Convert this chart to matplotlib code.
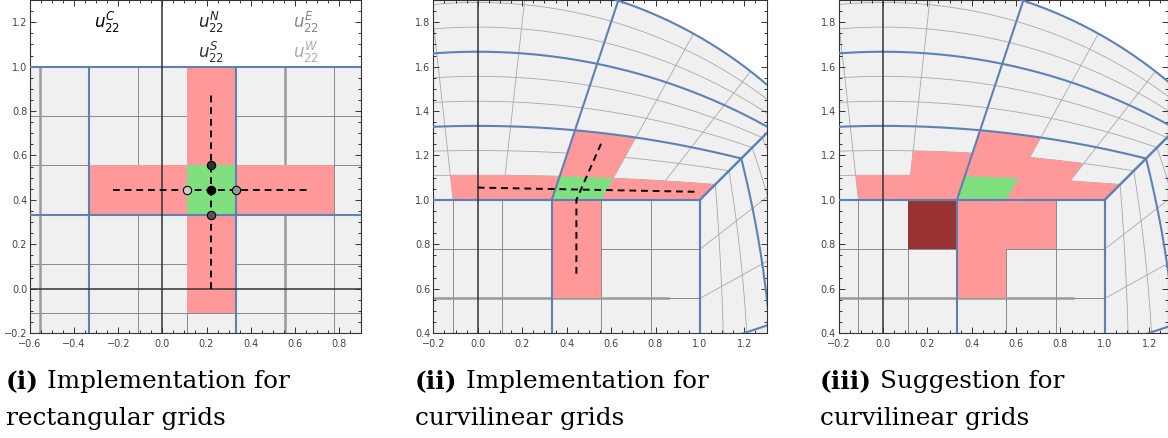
import numpy as np
import matplotlib
matplotlib.use('Agg')
import matplotlib.pyplot as plt
from matplotlib.patches import Polygon, Circle, Rectangle
from matplotlib.ticker import MultipleLocator, FuncFormatter

W, H = 1168, 438

# cell edges of the 9x9 square mesh (3x3 blocks of 3x3 cells), same split along xi in the ring
edges = [-1.0, -7/9, -5/9, -1/3, -1/9, 1/9, 1/3, 5/9, 7/9, 1.0]
block_idx = [0, 3, 6, 9]
# ring levels: height of each arc on the y axis and its curvature (outer arc is the circle r=2)
arc_top = [1.0, 1.111, 1.222, 1.333, 1.444, 1.556, 1.667, 1.778, 1.889, 2.0]
arc_curv = [0.0, 0.073, 0.142, 0.206, 0.266, 0.322, 0.373, 0.420, 0.462, 0.5]

# stencils, (column, row) cell indices
p1_red = [(3, 6), (4, 6), (6, 6), (7, 6), (5, 4), (5, 5), (5, 7), (5, 8)]
p1_green = [(5, 6)]
p2_sq_red = [(6, 7), (6, 8)]
p2_ring_red = [(4, 0), (5, 0), (7, 0), (8, 0), (6, 1), (6, 2)]
p2_ring_green = [(6, 0)]
p3_sq_red = [(6, 7), (6, 8), (7, 8)]
p3_sq_dark = [(5, 8)]
p3_ring_red = [(4, 0), (5, 0), (7, 0), (8, 0), (5, 1), (6, 1), (7, 1), (6, 2)]
p3_ring_green = [(6, 0)]

# dashed stencil lines of the curvilinear implementation
p2_hx = [0.0, 0.985]
p2_hy = [1.055, 1.036]
p2_vx = [0.444, 0.444, 0.556]
p2_vy = [0.667, 1.0, 1.255]

labels = ['$u_{22}^{C}$', '$u_{22}^{N}$', '$u_{22}^{S}$', '$u_{22}^{E}$', '$u_{22}^{W}$']
label_x = [-0.25, 0.22, 0.22, 0.65, 0.65]
label_y = [1.2, 1.2, 1.065, 1.2, 1.065]
label_col = ['#000000', '#222222', '#333333', '#888888', '#aaaaaa']

captions = [('(i)', 'Implementation for', 'rectangular grids'),
            ('(ii)', 'Implementation for', 'curvilinear grids'),
            ('(iii)', 'Suggestion for', 'curvilinear grids')]

BLUE = '#5e81b5'
RED = '#ff9999'
GREEN = '#80e080'
DARK = '#993333'
FILL = '#f0f0f0'


def ring_pt(xi, k):
    """point on ray through (xi, 1) and arc number k of the top ring block"""
    xi = np.asarray(xi, dtype=float)
    n = np.hypot(xi, 1.0)
    ux, uy = xi / n, 1.0 / n
    kap = arc_curv[k]
    if kap == 0:
        t = arc_top[k] / uy
    else:
        r = 1.0 / kap
        c = arc_top[k] - r
        t = c * uy + np.sqrt((c * uy) ** 2 - c * c + r * r)
    return t * ux, t * uy


def ring_cell(i, k):
    xs = np.linspace(edges[i], edges[i + 1], 30)
    x0, y0 = ring_pt(xs, k)
    x1, y1 = ring_pt(xs[::-1], k + 1)
    return np.column_stack([np.r_[x0, x1], np.r_[y0, y1]])


def sq_cell(i, j):
    return Rectangle((edges[i], edges[j]), edges[i + 1] - edges[i], edges[j + 1] - edges[j])


def draw_square(ax):
    for i, e in enumerate(edges):
        blue = i in block_idx
        kw = dict(color=BLUE, lw=1.5, zorder=3) if blue else dict(color='#8a8a8a', lw=0.7, zorder=1)
        ax.plot([e, e], [-1, 1], **kw)
        ax.plot([-1, 1], [e, e], **kw)


# the four ring blocks are copies of the top one
sym = [lambda x, y: (x, y), lambda x, y: (y, x), lambda x, y: (-y, x), lambda x, y: (x, -y)]


def draw_ring(ax):
    xs = np.linspace(-1, 1, 300)
    for f in sym:
        for k in range(10):
            blue = k in block_idx
            kw = dict(color=BLUE, lw=1.5, zorder=3) if blue else dict(color='#a8a8a8', lw=0.6, zorder=1)
            ax.plot(*f(*ring_pt(xs, k)), **kw)
        for i, e in enumerate(edges):
            blue = i in block_idx
            kw = dict(color=BLUE, lw=1.5, zorder=3) if blue else dict(color='#a8a8a8', lw=0.6, zorder=1)
            xa, ya = ring_pt(e, 0)
            xb, yb = ring_pt(e, 9)
            ax.plot(*f(np.array([xa, xb]), np.array([ya, yb])), **kw)


def fmt(v, pos):
    s = '%.1f' % v
    if s == '-0.0':
        s = '0.0'
    return s.replace('-', '\u2212')


def style(ax, xlim, ylim):
    ax.set_xlim(*xlim)
    ax.set_ylim(*ylim)
    for a in (ax.xaxis, ax.yaxis):
        a.set_major_locator(MultipleLocator(0.2))
        a.set_minor_locator(MultipleLocator(0.05))
        a.set_major_formatter(FuncFormatter(fmt))
    ax.tick_params(which='both', direction='in', top=True, right=True,
                   width=0.7, color='#333333', labelsize=7, labelcolor='#444444')
    ax.tick_params(axis='x', pad=4)
    ax.tick_params(axis='y', pad=2)
    ax.tick_params(which='major', length=4)
    ax.tick_params(which='minor', length=2)
    for s in ax.spines.values():
        s.set_color('#333333')
        s.set_linewidth(0.8)
    ax.axvline(0, color='#333333', lw=1.1, zorder=3.5)
    ax.axhline(0, color='#333333', lw=1.1, zorder=3.5)


fig = plt.figure(figsize=(W / 100, H / 100), dpi=100)
ax1 = fig.add_axes([30 / W, 105 / H, 331 / W, 333 / H])
ax2 = fig.add_axes([433.3 / W, 105 / H, 333.3 / W, 333 / H])
ax3 = fig.add_axes([838.7 / W, 105 / H, 329.3 / W, 333 / H])

# (i) rectangular grid
ax1.add_patch(Rectangle((-1, -1), 2, 2, fc=FILL, ec='none', zorder=0))
draw_square(ax1)
for xv in (edges[2], edges[7]):
    ax1.plot([xv, xv], [-1, 1], color='#9a9a9a', lw=1.8, zorder=1.2)
for i, j in p1_red:
    ax1.add_patch(sq_cell(i, j)).set(fc=RED, ec='none', zorder=2)
for i, j in p1_green:
    ax1.add_patch(sq_cell(i, j)).set(fc=GREEN, ec='none', zorder=2)
gi, gj = p1_green[0]
cx = (edges[gi] + edges[gi + 1]) / 2
cy = (edges[gj] + edges[gj + 1]) / 2
hcols = sorted(i for i, j in p1_red if j == gj)
vrows = sorted(j for i, j in p1_red if i == gi)
ax1.plot([(edges[hcols[0]] + edges[hcols[0] + 1]) / 2, (edges[hcols[-1]] + edges[hcols[-1] + 1]) / 2],
         [cy, cy], color='black', lw=1.4, ls=(0, (3.5, 2.5)), zorder=4)
ax1.plot([cx, cx], [(edges[vrows[0]] + edges[vrows[0] + 1]) / 2, (edges[vrows[-1]] + edges[vrows[-1] + 1]) / 2],
         color='black', lw=1.4, ls=(0, (3.5, 2.5)), zorder=4)
pts_x = [cx, cx, cx, edges[gi + 1], edges[gi]]
pts_y = [cy, edges[gj + 1], edges[gj], cy, cy]
pts_c = ['#000000', '#333333', '#555555', '#999999', '#cccccc']
for x, y, c in zip(pts_x, pts_y, pts_c):
    ax1.plot(x, y, 'o', ms=6, mfc=c, mec='black', mew=0.8, zorder=5)
for s, x, y, c in zip(labels, label_x, label_y, label_col):
    ax1.text(x, y, s, color=c, fontsize=12, ha='center', va='center', zorder=6)
style(ax1, (-0.6, 0.9), (-0.2, 1.3))

# (ii) and (iii) curvilinear grid
for ax in (ax2, ax3):
    ax.add_patch(Circle((0, 0), 2.0, fc=FILL, ec='none', zorder=0))
    draw_square(ax)
    draw_ring(ax)
    ax.plot([-1, 0.857], [edges[7], edges[7]], color='#9a9a9a', lw=1.8, zorder=1.2)
    style(ax, (-0.2, 1.3 if ax is ax2 else 1.285), (0.4, 1.9))

for i, j in p2_sq_red:
    ax2.add_patch(sq_cell(i, j)).set(fc=RED, ec='none', zorder=2)
for i, k in p2_ring_red:
    ax2.add_patch(Polygon(ring_cell(i, k), fc=RED, ec='none', zorder=2))
for i, k in p2_ring_green:
    ax2.add_patch(Polygon(ring_cell(i, k), fc=GREEN, ec='none', zorder=2))
ax2.plot(p2_hx, p2_hy, color='black', lw=1.4, ls=(0, (3.5, 2.5)), zorder=4)
ax2.plot(p2_vx, p2_vy, color='black', lw=1.4, ls=(0, (3.5, 2.5)), zorder=4)

for i, j in p3_sq_red:
    ax3.add_patch(sq_cell(i, j)).set(fc=RED, ec='none', zorder=2)
for i, j in p3_sq_dark:
    ax3.add_patch(sq_cell(i, j)).set(fc=DARK, ec='none', zorder=2)
for i, k in p3_ring_red:
    ax3.add_patch(Polygon(ring_cell(i, k), fc=RED, ec='none', zorder=2))
for i, k in p3_ring_green:
    ax3.add_patch(Polygon(ring_cell(i, k), fc=GREEN, ec='none', zorder=2))

# captions: bold tag followed by regular text
cap_x = [6, 415, 820]
renderer = fig.canvas.get_renderer()
for x0, (tag, l1, l2) in zip(cap_x, captions):
    t = fig.text(x0 / W, 1 - 388 / H, tag, fontsize=17.8, fontweight='bold',
                 family='DejaVu Serif', va='baseline')
    bb = t.get_window_extent(renderer)
    fig.text((bb.x1 + 8) / W, 1 - 388 / H, l1, fontsize=17.8, family='DejaVu Serif', va='baseline')
    fig.text(x0 / W, 1 - 425 / H, l2, fontsize=17.8, family='DejaVu Serif', va='baseline')

fig.savefig('out.png', dpi=100)
